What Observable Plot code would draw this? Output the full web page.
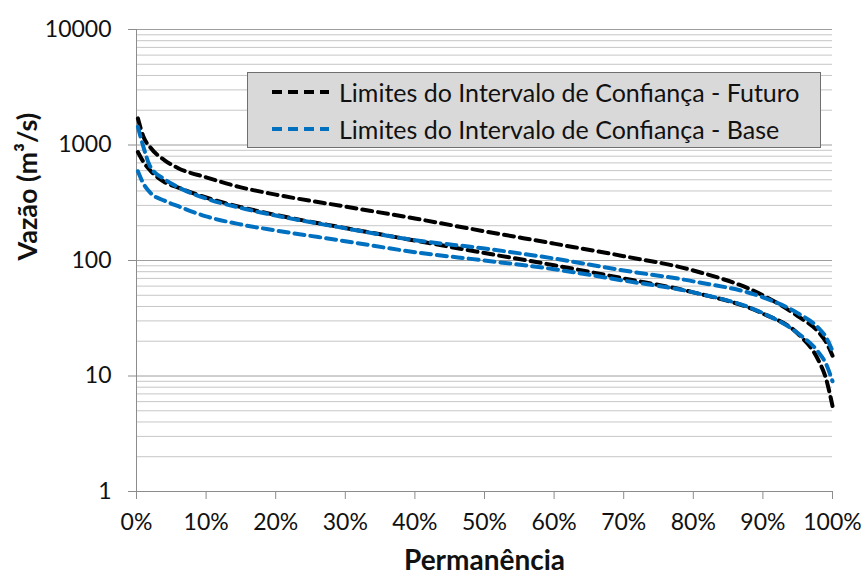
<!DOCTYPE html>
<html>
<head>
<meta charset="utf-8">
<script src="https://cdn.jsdelivr.net/npm/d3@7"></script>
<script src="https://cdn.jsdelivr.net/npm/@observablehq/plot@0.6"></script>
<style>
  html, body { margin: 0; padding: 0; background: #fff; }
  #wrap { position: relative; width: 865px; height: 580px; font-family: Lato, "Open Sans", sans-serif; }
  #legend {
    position: absolute; left: 247px; top: 72px; width: 574px; height: 76px;
    background: #d9d9d9; border: 1px solid #6f6f6f; box-sizing: border-box;
  }
  .row { position: absolute; left: 24px; height: 32px; display: flex; align-items: center; font-size: 25px; color: #111; white-space: nowrap; }
  .row svg { margin-right: 10px; }
</style>
</head>
<body>
<div id="wrap"></div>
<script>
// Permanência (fraction of time a flow is equalled or exceeded)
const permanencia = [0.002, 0.01, 0.02, 0.04, 0.06, 0.10, 0.15, 0.20, 0.30, 0.40, 0.50, 0.60, 0.70, 0.80, 0.90, 0.95, 0.98, 0.99, 1.00];

// Confidence-interval limits of the flow-duration curves, m³/s
const futuroSuperior = [1700, 1180, 950, 740, 630, 525, 430, 372, 293, 231, 179, 140, 109, 82, 50, 33, 24, 20, 15];
const futuroInferior = [870, 714, 600, 479, 428, 351, 290, 248, 191, 149, 116, 91, 70, 53, 34.7, 23.3, 13.6, 9.8, 5.5];
const baseSuperior   = [1440, 960, 646, 506, 430, 344, 285, 245, 190, 150, 127, 104, 82, 66, 48, 35, 26, 22, 16.5];
const baseInferior   = [593, 463, 385, 330, 295, 241, 205, 182, 147, 118, 100, 84, 67, 53, 35, 23.5, 16, 13, 9];

const yTicks = [1, 10, 100, 1000, 10000];
const xTicks = d3.range(0, 11).map(i => i / 10);
const legendLabels = ["Limites do Intervalo de Confiança - Futuro", "Limites do Intervalo de Confiança - Base"];

const colorFuturo = "#000000";
const colorBase = "#0070c0";

const series = [
  {name: "futuro-sup", values: futuroSuperior, color: colorFuturo},
  {name: "futuro-inf", values: futuroInferior, color: colorFuturo},
  {name: "base-sup", values: baseSuperior, color: colorBase},
  {name: "base-inf", values: baseInferior, color: colorBase}
];
const rows = series.flatMap(s => permanencia.map((p, i) => ({serie: s.name, color: s.color, p, q: s.values[i]})));

// minor log gridlines 2..9 within each decade
const minor = [];
for (let d = 1; d < 10000; d *= 10) for (let k = 2; k <= 9; k++) minor.push(d * k);

const chart = Plot.plot({
  width: 865,
  height: 580,
  marginLeft: 136,
  marginRight: 33,
  marginTop: 29,
  marginBottom: 89,
  style: {fontFamily: "Lato, 'Open Sans', sans-serif", fontSize: "23px", color: "#111", background: "#fff"},
  x: {domain: [0, 1]},
  y: {type: "log", domain: [1, 10000]},
  marks: [
    Plot.ruleY(minor, {stroke: "#c6c6c6", strokeWidth: 1, strokeOpacity: 1}),
    Plot.ruleY(yTicks, {stroke: "#9e9e9e", strokeWidth: 1, strokeOpacity: 1}),
    Plot.ruleX([0], {stroke: "#8c8c8c", strokeWidth: 1}),
    Plot.ruleY([1], {stroke: "#8c8c8c", strokeWidth: 1}),
    Plot.axisY(yTicks, {tickSize: 8, tickPadding: 17, tickFormat: d => String(d), label: null, stroke: "#8c8c8c"}),
    Plot.axisX(xTicks, {tickSize: 8, tickPadding: 14, tickFormat: d3.format(".0%"), label: null, stroke: "#8c8c8c"}),
    Plot.line(rows, {
      x: "p", y: "q", z: "serie", stroke: "color",
      strokeWidth: 4, strokeDasharray: "10,6", curve: "monotone-x"
    }),
    Plot.text(["Vazão (m³/s)"], {frameAnchor: "left", dx: -108, rotate: -90, fontWeight: "bold", fontSize: 27, fill: "#111"}),
    Plot.text(["Permanência"], {frameAnchor: "bottom", dy: 78, fontWeight: "bold", fontSize: 28, fill: "#111"})
  ]
});

const wrap = document.getElementById("wrap");
wrap.appendChild(chart);

// legend box drawn over the plot area
const legend = document.createElement("div");
legend.id = "legend";
const legendColors = [colorFuturo, colorBase];
legendLabels.forEach((label, i) => {
  const row = document.createElement("div");
  row.className = "row";
  row.style.top = (3 + i * 37) + "px";
  row.innerHTML = `<svg width="57" height="8"><line x1="0" x2="57" y1="4" y2="4" stroke="${legendColors[i]}" stroke-width="4" stroke-dasharray="10,6"/></svg><span>${label}</span>`;
  legend.appendChild(row);
});
wrap.appendChild(legend);
</script>
</body>
</html>
